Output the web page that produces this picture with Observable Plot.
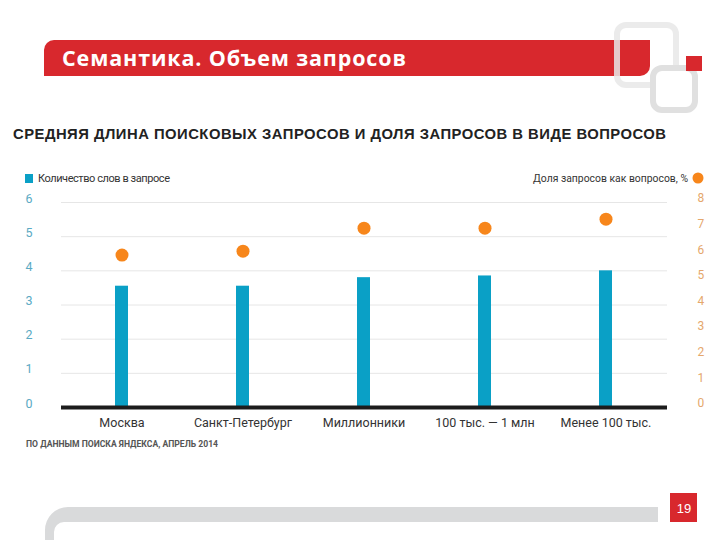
<!DOCTYPE html>
<html>
<head>
<meta charset="utf-8">
<script src="https://cdn.jsdelivr.net/npm/d3@7"></script>
<script src="https://cdn.jsdelivr.net/npm/@observablehq/plot@0.6"></script>
<style>
  html, body { margin: 0; padding: 0; background: #fff; }
  #slide { position: relative; width: 720px; height: 540px; overflow: hidden; background: #fff; }
  #deco { position: absolute; left: 0; top: 0; }
  #chart { position: absolute; left: 0; top: 185px; }
</style>
</head>
<body>
<div id="slide">
  <svg id="deco" width="720" height="540" xmlns="http://www.w3.org/2000/svg">
    <!-- red title banner -->
    <path d="M44,50 A10,10 0 0 1 54,40 H650 V66 A10,10 0 0 1 640,76 H44 Z" fill="#d8282d"/>
    <text x="62" y="66" font-family="Open Sans, DejaVu Sans, sans-serif" font-weight="700" font-size="21.5" fill="#fff" textLength="344" lengthAdjust="spacing">Семантика. Объем запросов</text>
    <!-- logo -->
    <rect x="617" y="25" width="59" height="60" rx="9" fill="none" stroke="#e8e8e8" stroke-width="6" opacity="0.85"/>
    <rect x="653" y="68" width="42" height="42" rx="9" fill="#fff" stroke="#e0e0e0" stroke-width="6"/>
    <rect x="686" y="56" width="16" height="15" fill="#d8282d"/>
    <!-- chart title -->
    <text x="13" y="139" font-family="Liberation Sans, Arial, sans-serif" font-weight="700" font-size="14.8" fill="#222" textLength="653" lengthAdjust="spacing">СРЕДНЯЯ ДЛИНА ПОИСКОВЫХ ЗАПРОСОВ И ДОЛЯ ЗАПРОСОВ В ВИДЕ ВОПРОСОВ</text>
    <!-- legends -->
    <rect id="legBar" x="25" y="174" width="8" height="9"/>
    <text x="38" y="182" font-family="Roboto, sans-serif" font-size="11" fill="#333" textLength="132" lengthAdjust="spacing">Количество слов в запросе</text>
    <text x="533" y="182" font-family="Roboto, sans-serif" font-size="11" fill="#333" textLength="155" lengthAdjust="spacingAndGlyphs">Доля запросов как вопросов, %</text>
    <circle id="legDot" cx="698" cy="178" r="5.5"/>
    <!-- source note -->
    <text x="26" y="447" font-family="Roboto, sans-serif" font-weight="700" font-size="8.6" fill="#555" textLength="192" lengthAdjust="spacing">ПО ДАННЫМ ПОИСКА ЯНДЕКСА, АПРЕЛЬ 2014</text>
    <!-- bottom bar -->
    <path d="M658,507 H68 A23,23 0 0 0 45,530 V540 H54 V532 A10,10 0 0 1 64,522 H658 Z" fill="#d9dadb"/>
    <rect x="670" y="493" width="27" height="29" fill="#d8282d"/>
    <text x="684" y="513" text-anchor="middle" font-family="Liberation Sans, Arial, sans-serif" font-size="13" fill="#fff">19</text>
  </svg>
  <div id="chart"></div>
</div>
<script>
const categories = ["Москва", "Санкт-Петербург", "Миллионники", "100 тыс. — 1 млн", "Менее 100 тыс."];
const wordsPerQuery = [3.55, 3.55, 3.8, 3.85, 4.0];
const questionShare = [5.95, 6.1, 7.0, 7.0, 7.35];
const leftTicks = [0, 1, 2, 3, 4, 5, 6];
const rightTicks = [0, 1, 2, 3, 4, 5, 6, 7, 8];

const barColor = "#0aa0c6";
const dotColor = "#f7861b";
document.getElementById("legBar").setAttribute("fill", barColor);
document.getElementById("legDot").setAttribute("fill", dotColor);

const leftMax = 6, rightMax = 8;
const toLeft = v => v * leftMax / rightMax;

const data = categories.map((c, i) => ({cat: c, words: wordsPerQuery[i], share: questionShare[i]}));

const chart = Plot.plot({
  width: 720,
  height: 250,
  marginTop: 17,
  marginBottom: 28,
  marginLeft: 61,
  marginRight: 53,
  style: {fontFamily: "Roboto, sans-serif", background: "transparent", overflow: "visible"},
  x: {domain: categories, paddingInner: 0.89, paddingOuter: 0.445, label: null},
  y: {domain: [0, leftMax], label: null},
  marks: [
    Plot.ruleY(leftTicks.filter(d => d > 0), {stroke: "#e6e6e6", strokeWidth: 1}),
    Plot.barY(data, {x: "cat", y: "words", fill: barColor}),
    Plot.ruleY([0], {stroke: "#1c1c1c", strokeWidth: 4}),
    Plot.dot(data, {x: "cat", y: d => toLeft(d.share), r: 6.5, fill: dotColor}),
    Plot.axisY({anchor: "left", ticks: leftTicks, tickFormat: d => String(d), tickSize: 0, tickPadding: 29, dy: -4, fontSize: 12.5, color: "#5aaac4", label: null}),
    Plot.axisY({anchor: "right", ticks: rightTicks.map(toLeft), tickFormat: d => String(Math.round(d * rightMax / leftMax)), tickSize: 0, tickPadding: 30, dy: -4, fontSize: 12, color: "#e5a76c", label: null}),
    Plot.axisX({tickSize: 0, tickPadding: 11, fontSize: 12.5, color: "#333", label: null})
  ]
});
document.getElementById("chart").appendChild(chart);
</script>
</body>
</html>
